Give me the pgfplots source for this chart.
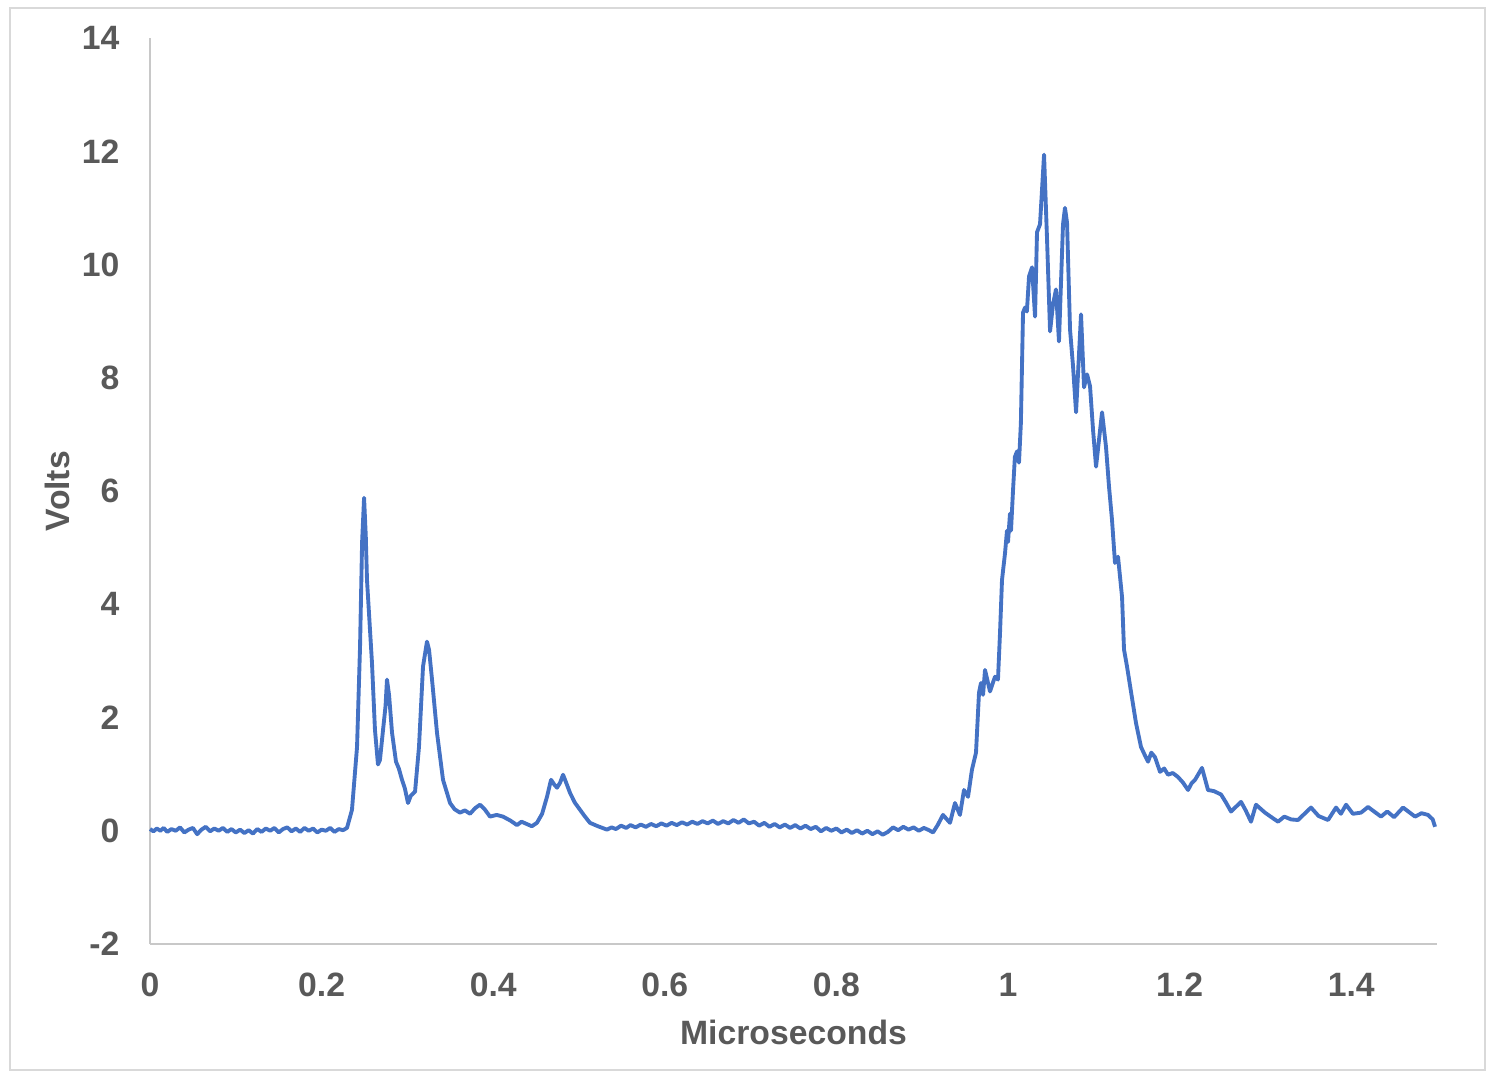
\documentclass[border=0pt]{standalone}
\usepackage{fontspec}
\setmainfont{Liberation Sans}
\usepackage{pgfplots}
\pgfplotsset{compat=1.18}
\definecolor{lineB}{HTML}{4472C4}
\definecolor{inkG}{HTML}{595959}
\definecolor{axG}{HTML}{C8C8C8}
\definecolor{frameG}{HTML}{D9D9D9}

\pgfplotstableread{
x y
0 0.03
0.004 -0.01
0.008 0.04
0.012 0.0
0.016 0.05
0.02 -0.02
0.025 0.03
0.03 0.0
0.035 0.06
0.04 -0.03
0.045 0.02
0.05 0.05
0.055 -0.06
0.06 0.02
0.065 0.07
0.07 -0.01
0.075 0.04
0.08 0.0
0.085 0.05
0.09 -0.02
0.095 0.03
0.1 -0.03
0.105 0.02
0.11 -0.04
0.115 0.01
0.12 -0.05
0.125 0.03
0.13 -0.02
0.135 0.04
0.14 0.0
0.145 0.05
0.15 -0.03
0.155 0.03
0.16 0.06
0.165 -0.01
0.17 0.04
0.175 -0.02
0.18 0.05
0.185 0.0
0.19 0.04
0.195 -0.03
0.2 0.02
0.205 0.0
0.21 0.05
0.215 -0.02
0.22 0.03
0.225 0.01
0.2296 0.05
0.2354 0.37
0.2413 1.48
0.2448 3.25
0.2472 5.1
0.2495 5.88
0.2515 5.2
0.2529 4.43
0.2587 2.97
0.2622 1.78
0.2657 1.17
0.268 1.25
0.2716 1.78
0.2745 2.2
0.2762 2.67
0.2786 2.4
0.2821 1.73
0.2867 1.22
0.290 1.1
0.2937 0.9
0.297 0.75
0.3007 0.49
0.304 0.62
0.3089 0.69
0.3135 1.48
0.3182 2.9
0.3228 3.34
0.3252 3.2
0.3287 2.67
0.3345 1.73
0.3415 0.9
0.3497 0.49
0.355 0.38
0.3613 0.32
0.367 0.36
0.373 0.3
0.379 0.4
0.3846 0.46
0.39 0.38
0.3963 0.25
0.404 0.28
0.4114 0.25
0.42 0.18
0.4277 0.1
0.433 0.16
0.439 0.12
0.445 0.08
0.451 0.14
0.457 0.3
0.4627 0.6
0.4674 0.9
0.471 0.82
0.4744 0.76
0.478 0.85
0.4814 0.99
0.485 0.85
0.4895 0.67
0.495 0.5
0.5012 0.37
0.507 0.25
0.5128 0.14
0.522 0.08
0.5326 0.02
0.538 0.06
0.543 0.03
0.549 0.09
0.555 0.05
0.56 0.1
0.566 0.06
0.572 0.11
0.578 0.07
0.584 0.12
0.59 0.08
0.596 0.13
0.602 0.09
0.608 0.14
0.614 0.1
0.62 0.15
0.626 0.11
0.632 0.16
0.638 0.12
0.644 0.17
0.65 0.13
0.656 0.18
0.662 0.12
0.668 0.17
0.674 0.13
0.68 0.19
0.686 0.14
0.692 0.2
0.698 0.13
0.704 0.16
0.71 0.09
0.716 0.14
0.722 0.07
0.728 0.12
0.734 0.06
0.74 0.11
0.746 0.05
0.752 0.1
0.758 0.04
0.764 0.09
0.77 0.03
0.776 0.07
0.782 -0.01
0.788 0.05
0.794 0.0
0.8 0.04
0.806 -0.03
0.812 0.02
0.818 -0.04
0.824 0.01
0.83 -0.05
0.836 0.0
0.842 -0.06
0.848 -0.01
0.854 -0.07
0.86 -0.02
0.866 0.06
0.872 0.01
0.878 0.07
0.884 0.02
0.89 0.06
0.896 0.0
0.902 0.05
0.908 0.01
0.9126 -0.03
0.918 0.1
0.9242 0.28
0.9324 0.14
0.9382 0.49
0.944 0.28
0.9487 0.72
0.9534 0.6
0.958 1.08
0.9627 1.38
0.9662 2.44
0.9685 2.61
0.9709 2.4
0.9732 2.84
0.979 2.46
0.9848 2.72
0.9883 2.67
0.9907 3.5
0.993 4.43
0.9965 4.9
0.9988 5.3
1.0 5.1
1.0023 5.6
1.0035 5.3
1.0058 6.0
1.008 6.6
1.0105 6.7
1.0128 6.5
1.015 7.2
1.0175 9.15
1.0198 9.24
1.022 9.17
1.0245 9.79
1.028 9.95
1.0315 9.08
1.0338 10.57
1.0373 10.71
1.042 11.94
1.0455 10.44
1.049 8.82
1.0524 9.29
1.0559 9.56
1.0594 8.64
1.0641 10.71
1.0664 11.0
1.0688 10.74
1.0723 8.85
1.0758 8.2
1.0793 7.39
1.0851 9.12
1.0886 7.83
1.0921 8.06
1.0956 7.85
1.0991 7.08
1.1026 6.43
1.1096 7.39
1.1142 6.78
1.1177 6.08
1.1212 5.49
1.1247 4.73
1.1282 4.84
1.1329 4.13
1.1352 3.2
1.1387 2.9
1.1434 2.45
1.1492 1.9
1.155 1.48
1.159 1.35
1.1632 1.22
1.167 1.38
1.1713 1.3
1.1772 1.04
1.182 1.1
1.1865 0.99
1.192 1.02
1.1981 0.95
1.204 0.85
1.2098 0.72
1.214 0.84
1.218 0.9
1.2261 1.11
1.2331 0.72
1.24 0.7
1.2483 0.64
1.254 0.5
1.2599 0.34
1.2716 0.51
1.277 0.36
1.2832 0.16
1.289 0.46
1.2995 0.32
1.307 0.24
1.3147 0.16
1.322 0.25
1.33 0.2
1.338 0.19
1.3531 0.41
1.362 0.26
1.373 0.19
1.3823 0.41
1.388 0.3
1.394 0.46
1.402 0.3
1.4114 0.32
1.4196 0.42
1.4347 0.25
1.442 0.34
1.45 0.24
1.4604 0.41
1.4744 0.25
1.482 0.31
1.4895 0.28
1.495 0.2
1.4977 0.07
}\trace

\begin{document}
\begin{tikzpicture}
\useasboundingbox (-1.50cm,-1.29cm) rectangle (13.43cm,9.44cm);
\draw[frameG, line width=0.8pt] (-1.40cm,-1.26cm) rectangle (13.35cm,9.36cm);
\begin{axis}[
    at={(0,0)}, anchor=south west,
    scale only axis,
    width=12.87cm, height=9.06cm,
    xmin=0, xmax=1.5, ymin=-2, ymax=14,
    axis x line*=bottom, axis y line*=left,
    axis line style={axG, line width=0.8pt, -},
    major tick length=0pt,
    xtick={0,0.2,0.4,0.6,0.8,1,1.2,1.4},
    xticklabels={0,0.2,0.4,0.6,0.8,1,1.2,1.4},
    ytick={-2,0,2,4,6,8,10,12,14},
    yticklabels={-2,0,2,4,6,8,10,12,14},
    ticklabel style={font=\fontsize{9.6}{11}\selectfont\bfseries, color=inkG, inner sep=0pt},
    xticklabel style={anchor=center, yshift=-4.1mm},
    yticklabel style={anchor=east, xshift=-3mm},
    xlabel={Microseconds}, ylabel={Volts},
    label style={font=\fontsize{9.6}{11}\selectfont\bfseries, color=inkG, inner sep=0pt},
    xlabel style={at={(rel axis cs:0.5,0)}, anchor=center, yshift=-8.8mm},
    ylabel style={at={(rel axis cs:0,0.5)}, anchor=center, yshift=9.3mm},
    clip=false,
]
\addplot[lineB, line width=1.1pt, line join=round, no markers] table[x=x, y=y] {\trace};
\end{axis}
\end{tikzpicture}
\end{document}
